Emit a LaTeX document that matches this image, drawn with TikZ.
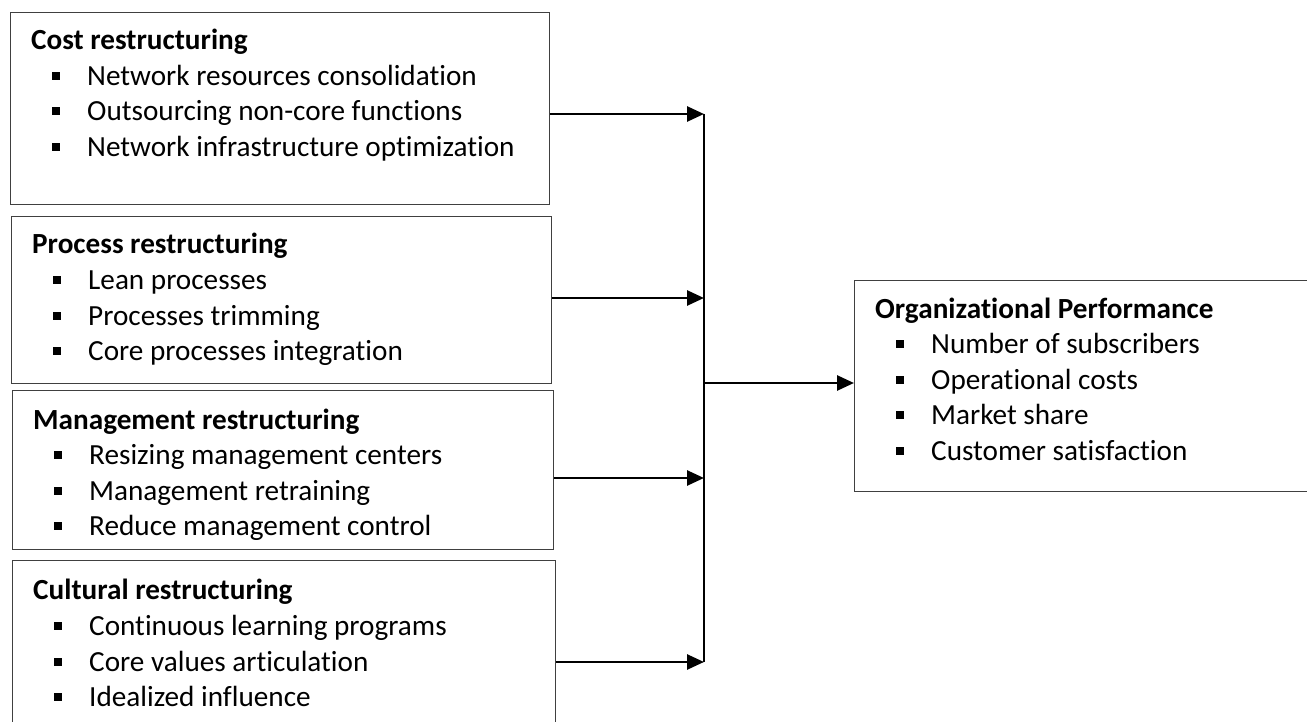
\documentclass[tikz,border=0pt]{standalone}
\usepackage{fontspec}
\setmainfont{Carlito}[Ligatures=NoCommon]
\usetikzlibrary{arrows.meta}
\newcommand\sqbul{\rule[5.5pt]{8pt}{8pt}}
\newcommand\itm[1]{\makebox[35pt][l]{\sqbul}#1}
\tikzset{
  boxst/.style={draw=black!75, line width=1.3pt, rectangle, inner sep=0pt, anchor=north west},
  head/.style={anchor=base west, inner sep=0pt, font=\fontsize{29.2}{35}\selectfont\bfseries},
  item/.style={anchor=base west, inner sep=0pt, font=\fontsize{29.2}{35}\selectfont},
  conn/.style={line width=2.7pt, -{Triangle[length=17pt,width=15pt]}},
  bus/.style={line width=2.7pt}
}
\begin{document}
\begin{tikzpicture}[x=1pt,y=-1pt]
\useasboundingbox (0,0) rectangle (1307,722);
\clip (0,0) rectangle (1307,722);
\fill[white] (0,0) rectangle (1307,722);
% boxes
\node[boxst, minimum width=539pt, minimum height=192pt] (cost) at (10,12) {};
\node[boxst, minimum width=540pt, minimum height=167pt] (proc) at (11,216) {};
\node[boxst, minimum width=541pt, minimum height=159pt] (mgmt) at (12,390) {};
\node[boxst, minimum width=543pt, minimum height=180pt] (cult) at (12,560) {};
\node[boxst, minimum width=480pt, minimum height=211pt] (org) at (854,280) {};
% cost
\node[head] (ch) at (31,50) {Cost restructuring};
\node[item] (c1) at (52,85.5) {\itm{Network resources consolidation}};
\node[item] (c2) at (52,121) {\itm{Outsourcing non-core functions}};
\node[item] (c3) at (52,157) {\itm{Network infrastructure optimization}};
% process
\node[head] (ph) at (32,254) {Process restructuring};
\node[item] (p1) at (53,289.5) {\itm{Lean processes}};
\node[item] (p2) at (53,325) {\itm{Processes trimming}};
\node[item] (p3) at (53,360.5) {\itm{Core processes integration}};
% management
\node[head] (mh) at (33,429) {Management restructuring};
\node[item] (m1) at (54,464.5) {\itm{Resizing management centers}};
\node[item] (m2) at (54,500) {\itm{Management retraining}};
\node[item] (m3) at (54,535.5) {\itm{Reduce management control}};
% cultural
\node[head] (uh) at (33,599.5) {Cultural restructuring};
\node[item] (u1) at (54,635.5) {\itm{Continuous learning programs}};
\node[item] (u2) at (54,671) {\itm{Core values articulation}};
\node[item] (u3) at (54,706.5) {\itm{Idealized influence}};
% organizational performance
\node[head] (oh) at (875,318) {Organizational Performance};
\node[item] (o1) at (896,353.5) {\itm{Number of subscribers}};
\node[item] (o2) at (896,389) {\itm{Operational costs}};
\node[item] (o3) at (896,424.5) {\itm{Market share}};
\node[item] (o4) at (896,460) {\itm{Customer satisfaction}};
% connectors
\coordinate (j1) at (704,114);
\coordinate (j2) at (704,298);
\coordinate (j3) at (704,478);
\coordinate (j4) at (704,662);
\coordinate (jo) at (704,383);
\draw[bus] (j1) -- (j4);
\draw[conn] (cost.east |- j1) -- (j1);
\draw[conn] (proc.east |- j2) -- (j2);
\draw[conn] (mgmt.east |- j3) -- (j3);
\draw[conn] (cult.east |- j4) -- (j4);
\draw[conn] (jo) -- (org.west |- jo);
\end{tikzpicture}
\end{document}
